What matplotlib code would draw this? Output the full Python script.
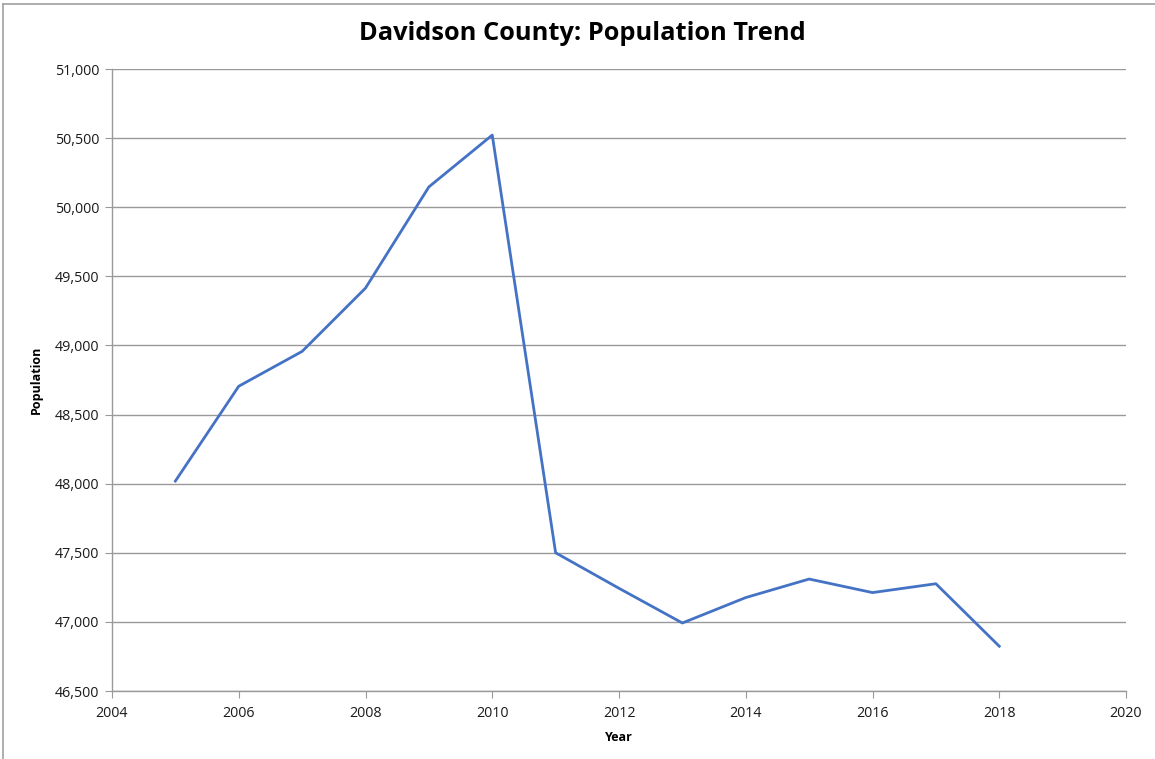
import matplotlib.pyplot as plt
from matplotlib.lines import Line2D
from matplotlib.ticker import FuncFormatter, MultipleLocator

# data
years = [2005, 2006, 2007, 2008, 2009, 2010, 2011, 2012, 2013, 2014, 2015, 2016, 2017, 2018]
population = [48019, 48705, 48957, 49415, 50147, 50522, 47500, 47243, 46992,
              47176, 47310, 47212, 47276, 46824]

plt.rcParams['font.family'] = ['Open Sans', 'DejaVu Sans']

fig = plt.figure(figsize=(11.55, 7.59), dpi=100)
ax = fig.add_axes([112 / 1155, 1 - 691 / 759, (1126 - 112) / 1155, (691 - 69) / 759])

ax.plot(years, population, color='#4472C4', linewidth=2.0)

ax.set_xlim(2004, 2020)
ax.set_ylim(46500, 51000)
ax.xaxis.set_major_locator(MultipleLocator(2))
ax.yaxis.set_major_locator(MultipleLocator(500))
ax.yaxis.set_major_formatter(FuncFormatter(lambda v, p: f"{int(v):,}"))

ax.grid(axis='y', color='#999999', linewidth=1.0)
ax.set_axisbelow(True)
for s in ['top', 'right']:
    ax.spines[s].set_visible(False)
for s in ['left', 'bottom']:
    ax.spines[s].set_color('#999999')
    ax.spines[s].set_linewidth(1.0)

ax.tick_params(axis='both', direction='out', length=5, color='#999999',
               labelsize=10.3, labelcolor='#1a1a1a')
ax.tick_params(axis='y', pad=4)
ax.tick_params(axis='x', pad=6)

ax.set_xlabel("Year", fontsize=9, fontweight='bold', labelpad=7)
ax.set_ylabel("Population", fontsize=9, fontweight='bold', labelpad=9)

fig.text(582 / 1155, 1 - 33 / 759, "Davidson County: Population Trend",
         ha='center', va='center', fontsize=18.3, fontweight='bold')

# outer chart border
fig.add_artist(Line2D([3 / 1155, 3 / 1155], [0, 1 - 4 / 759], transform=fig.transFigure,
                      color='#a0a0a0', linewidth=1.2))
fig.add_artist(Line2D([3 / 1155, 1], [1 - 4 / 759, 1 - 4 / 759], transform=fig.transFigure,
                      color='#a0a0a0', linewidth=1.2))

fig.savefig("out.png", dpi=100)
